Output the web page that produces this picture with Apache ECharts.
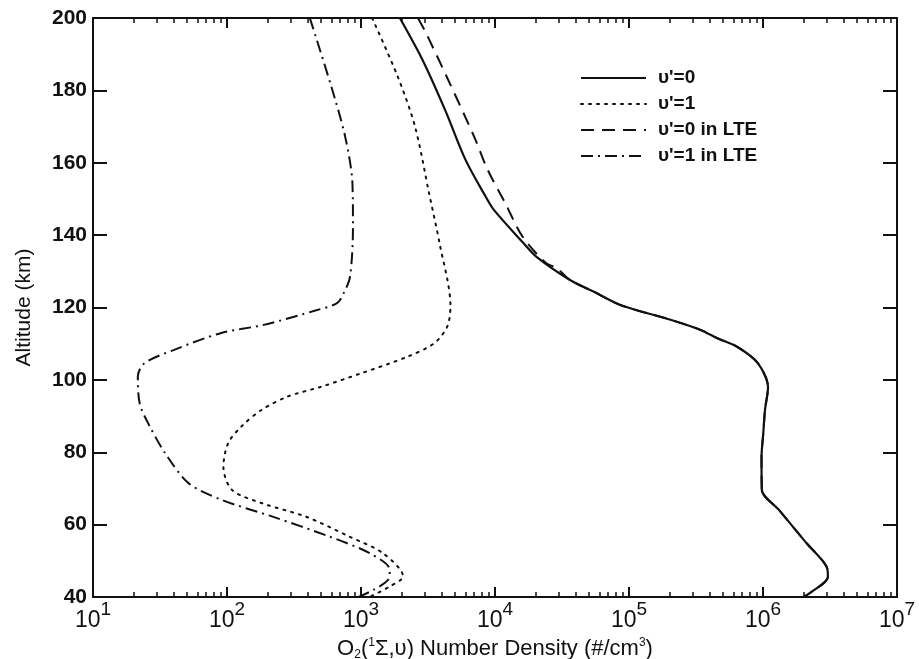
<!DOCTYPE html>
<html>
<head>
<meta charset="utf-8">
<script src="https://cdn.jsdelivr.net/npm/echarts@6/dist/echarts.min.js"></script>
<style>
  html, body { margin: 0; padding: 0; background: #fff; }
  #chart { width: 919px; height: 659px; }
</style>
</head>
<body>
<div id="chart"></div>
<script>
// Altitude profiles (km) and O2(1Σ, v) number densities (#/cm^3)
var v0Alt = [200, 188.4, 174.6, 160.8, 150.6, 146.9, 137.8, 134.0, 127.6, 124.4, 120.7, 116.6, 113.8, 111.5, 109.1, 104.7, 98.0, 91.7, 85.3, 78.7, 69.6, 64.0, 54.9, 48.3, 45.6, 41.1, 40];
var v0Den = [1950, 2880, 4240, 6030, 8530, 9840, 16300, 20400, 36300, 54300, 86100, 204000, 342000, 456000, 644000, 912000, 1090000, 1035000, 1005000, 975000, 980000, 1320000, 2110000, 2990000, 3050000, 2240000, 2000000];

var v1Alt = [200, 183.8, 170, 151.6, 137.7, 120.5, 114.7, 110.1, 106.4, 101.8, 98.1, 95.4, 91.7, 87.1, 82.5, 76.0, 69.6, 65.9, 62.2, 56.7, 52.1, 45.7, 42.9, 40.1];
var v1Den = [1210, 1880, 2530, 3220, 3860, 4650, 4400, 3510, 2220, 1000, 504, 284, 181, 128, 102, 94, 109, 183, 388, 818, 1460, 2060, 1640, 1170];

var v0LteAlt = [200, 195.9, 183.7, 167.1, 158.0, 148.9, 139.5, 132.3, 130.9, 127.6, 124.4, 120.7, 116.6, 113.8, 111.5, 109.1, 104.7, 98.0, 91.7, 85.3, 78.7, 69.6, 64.0, 54.9, 48.3, 45.6, 41.1, 40];
var v0LteDen = [2660, 3050, 4370, 7010, 8830, 11900, 16100, 24000, 28900, 36300, 54300, 86100, 204000, 342000, 456000, 644000, 912000, 1090000, 1035000, 1005000, 975000, 980000, 1320000, 2110000, 2990000, 3050000, 2240000, 2000000];

var v1LteAlt = [200, 181, 167.2, 154.3, 142.3, 128.5, 123.9, 121.2, 119.3, 115.2, 112.9, 108.3, 104.6, 100.9, 93.5, 88, 79.7, 71.4, 66.8, 62.2, 56.7, 52.1, 47.5, 44.7, 41.9, 40];
var v1LteDen = [415, 601, 762, 863, 871, 828, 741, 662, 470, 188, 89.5, 40.3, 24.2, 21.6, 22.3, 25.8, 34.6, 51.9, 92, 219, 581, 1160, 1640, 1590, 1230, 960];

var seriesNames = ["υ'=0", "υ'=1", "υ'=0 in LTE", "υ'=1 in LTE"];
var xMin = 10, xMax = 1e7;
var yMin = 40, yMax = 200, yStep = 20;

// minor decade ticks: 2..9 x 10^n
var minorTicks = [];
for (var e = 1; e < 7; e++) {
  for (var k = 2; k <= 9; k++) minorTicks.push(k * Math.pow(10, e));
}

function pairs(den, alt) {
  return den.map(function (d, i) { return [d, alt[i]]; });
}

var FONT = 'Liberation Sans, Arial, Helvetica, sans-serif';
var INK = '#111';

function xAxisBase(pos, tickLen, minor, showLine) {
  return {
    type: 'log', logBase: 10, min: xMin, max: xMax, interval: 1,
    position: pos, gridIndex: 0,
    axisLine: { show: showLine, lineStyle: { color: INK, width: 2 } },
    axisTick: minor
      ? { show: true, inside: true, length: tickLen, customValues: minorTicks, lineStyle: { color: INK, width: 1.5 } }
      : { show: true, inside: true, length: tickLen, lineStyle: { color: INK, width: 2 } },
    axisLabel: { show: false },
    splitLine: { show: false },
    minorTick: { show: false },
    minorSplitLine: { show: false }
  };
}

var xBottom = xAxisBase('bottom', 10, false, true);
xBottom.axisLabel = {
  show: true, margin: 3,
  formatter: function (v) {
    var ex = Math.round(Math.log10(v));
    return '{b|10}{s|' + ex + '}';
  },
  rich: {
    b: { fontFamily: FONT, fontSize: 23, color: INK, lineHeight: 32, verticalAlign: 'bottom' },
    s: { fontFamily: FONT, fontSize: 19, color: INK, lineHeight: 18, verticalAlign: 'top' }
  }
};
xBottom.name = '{n|O}{sub|2}{n|(}{sup|1}{n|Σ,υ) Number Density (#/cm}{sup|3}{n|)}';
xBottom.nameLocation = 'middle';
xBottom.nameGap = 36;
xBottom.nameTextStyle = {
  rich: {
    n: { fontFamily: FONT, fontSize: 22, color: INK, lineHeight: 24, verticalAlign: 'middle' },
    sub: { fontFamily: FONT, fontSize: 12, color: INK, lineHeight: 12, verticalAlign: 'bottom' },
    sup: { fontFamily: FONT, fontSize: 12, color: INK, lineHeight: 12, verticalAlign: 'top' }
  }
};

var option = {
  backgroundColor: '#fff',
  animation: false,
  grid: { left: 93, right: 22, top: 18, bottom: 62, containLabel: false, outerBoundsMode: 'none' },
  legend: {
    orient: 'vertical', left: 580, top: 65, padding: 0,
    itemWidth: 65, itemHeight: 14, itemGap: 0,
    data: seriesNames,
    itemStyle: { opacity: 0 },
    textStyle: { fontFamily: FONT, fontSize: 19, fontWeight: 'bold', color: INK, lineHeight: 14, padding: [0, 0, 12, 7] }
  },
  xAxis: [
    xBottom,
    xAxisBase('bottom', 5, true, false),
    xAxisBase('top', 10, false, true),
    xAxisBase('top', 5, true, false)
  ],
  yAxis: [
    {
      type: 'value', min: yMin, max: yMax, interval: yStep, position: 'left',
      name: 'Altitude (km)', nameLocation: 'middle', nameGap: 58,
      nameTextStyle: { fontFamily: FONT, fontSize: 21, color: INK },
      axisLine: { show: true, lineStyle: { color: INK, width: 2 } },
      axisTick: { show: true, inside: true, length: 14, lineStyle: { color: INK, width: 2 } },
      axisLabel: { fontFamily: FONT, fontSize: 21, fontWeight: 'bold', color: INK, margin: 6 },
      splitLine: { show: false }
    },
    {
      type: 'value', min: yMin, max: yMax, interval: yStep, position: 'right',
      axisLine: { show: true, lineStyle: { color: INK, width: 2 } },
      axisTick: { show: true, inside: true, length: 14, lineStyle: { color: INK, width: 2 } },
      axisLabel: { show: false },
      splitLine: { show: false }
    }
  ],
  series: [
    {
      name: seriesNames[0], type: 'line', xAxisIndex: 0, yAxisIndex: 0,
      data: pairs(v0Den, v0Alt), smooth: 0.3, symbol: 'none',
      itemStyle: { color: INK },
      lineStyle: { color: INK, width: 2.2, type: 'solid' }
    },
    {
      name: seriesNames[1], type: 'line', xAxisIndex: 0, yAxisIndex: 0,
      data: pairs(v1Den, v1Alt), smooth: 0.3, symbol: 'none',
      itemStyle: { color: INK },
      lineStyle: { color: INK, width: 2, type: [2, 6], cap: 'round' }
    },
    {
      name: seriesNames[2], type: 'line', xAxisIndex: 0, yAxisIndex: 0,
      data: pairs(v0LteDen, v0LteAlt), smooth: 0.3, symbol: 'none',
      itemStyle: { color: INK },
      lineStyle: { color: INK, width: 2, type: [13, 8] }
    },
    {
      name: seriesNames[3], type: 'line', xAxisIndex: 0, yAxisIndex: 0,
      data: pairs(v1LteDen, v1LteAlt), smooth: 0.3, symbol: 'none',
      itemStyle: { color: INK },
      lineStyle: { color: INK, width: 2, type: [12, 5, 2, 5] }
    }
  ]
};

var chart = echarts.init(document.getElementById('chart'), null, { renderer: 'canvas' });
chart.setOption(option);
</script>
</body>
</html>
